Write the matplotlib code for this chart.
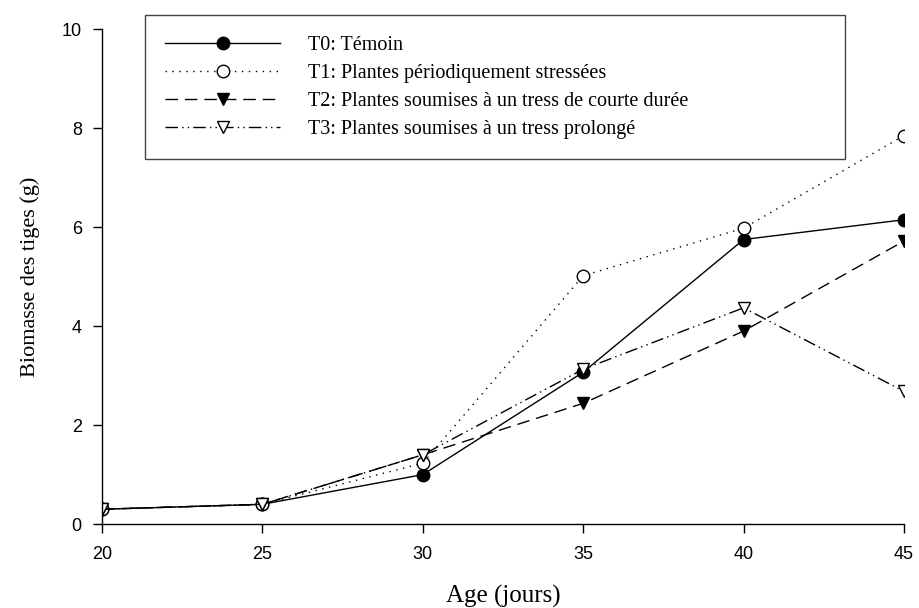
import matplotlib
matplotlib.use("Agg")
import matplotlib.pyplot as plt

# --- data ---
ages = [20, 25, 30, 35, 40, 45]
t0 = [0.30, 0.40, 1.00, 3.07, 5.75, 6.15]
t1 = [0.30, 0.40, 1.23, 5.02, 5.98, 7.85]
t2 = [0.30, 0.40, 1.40, 2.44, 3.90, 5.72]
t3 = [0.30, 0.40, 1.40, 3.13, 4.37, 2.68]

labels = [
    "T0: Témoin",
    "T1: Plantes périodiquement stressées",
    "T2: Plantes soumises à un tress de courte durée",
    "T3: Plantes soumises à un tress prolongé",
]

SERIF = ["Liberation Serif", "DejaVu Serif"]
SANS = ["Liberation Sans", "DejaVu Sans"]

fig = plt.figure(figsize=(9.19, 6.08), dpi=100)
ax = fig.add_axes([0.111, 0.138, 0.8727, 0.814])

ms = 9
ax.plot(ages, t0, color="black", lw=1.0, ls="-", marker="o", ms=ms,
        mfc="black", mec="black", label=labels[0])
ax.plot(ages, t1, color="black", lw=1.0, ls=(0, (1, 4)), marker="o", ms=ms,
        mfc="white", mec="black", label=labels[1])
ax.plot(ages, t2, color="black", lw=1.0, ls=(0, (9, 5)), marker="v", ms=ms,
        mfc="black", mec="black", label=labels[2])
ax.plot(ages, t3, color="black", lw=1.0, ls=(0, (9, 3, 1, 3, 1, 3)), marker="v", ms=ms,
        mfc="white", mec="black", label=labels[3])

ax.set_xlim(20, 45)
ax.set_ylim(0, 10)
ax.set_xticks(ages)
ax.set_yticks([0, 2, 4, 6, 8, 10])
ax.spines["top"].set_visible(False)
ax.spines["right"].set_visible(False)
for s in ("left", "bottom"):
    ax.spines[s].set_linewidth(1.0)
ax.tick_params(direction="out", length=6.5, width=1.0, labelsize=13)
ax.tick_params(axis="x", pad=9)
ax.tick_params(axis="y", pad=8)
for lab in ax.get_xticklabels() + ax.get_yticklabels():
    lab.set_family(SANS)

ax.set_xlabel("Age (jours)", family=SERIF, fontsize=18, labelpad=16)
ax.set_ylabel("Biomasse des tiges (g)", family=SERIF, fontsize=16, labelpad=16)

leg = ax.legend(loc="upper left", bbox_to_anchor=(0.0536, 0, 0.873, 1.028),
                mode="expand", frameon=True,
                fancybox=False, edgecolor="#444444", framealpha=1,
                prop={"family": SERIF, "size": 14.5}, handlelength=5.7,
                handletextpad=1.4, labelspacing=0.455, borderpad=1.0,
                borderaxespad=0)
leg.get_frame().set_linewidth(1.0)

fig.savefig("out.png", dpi=100)
